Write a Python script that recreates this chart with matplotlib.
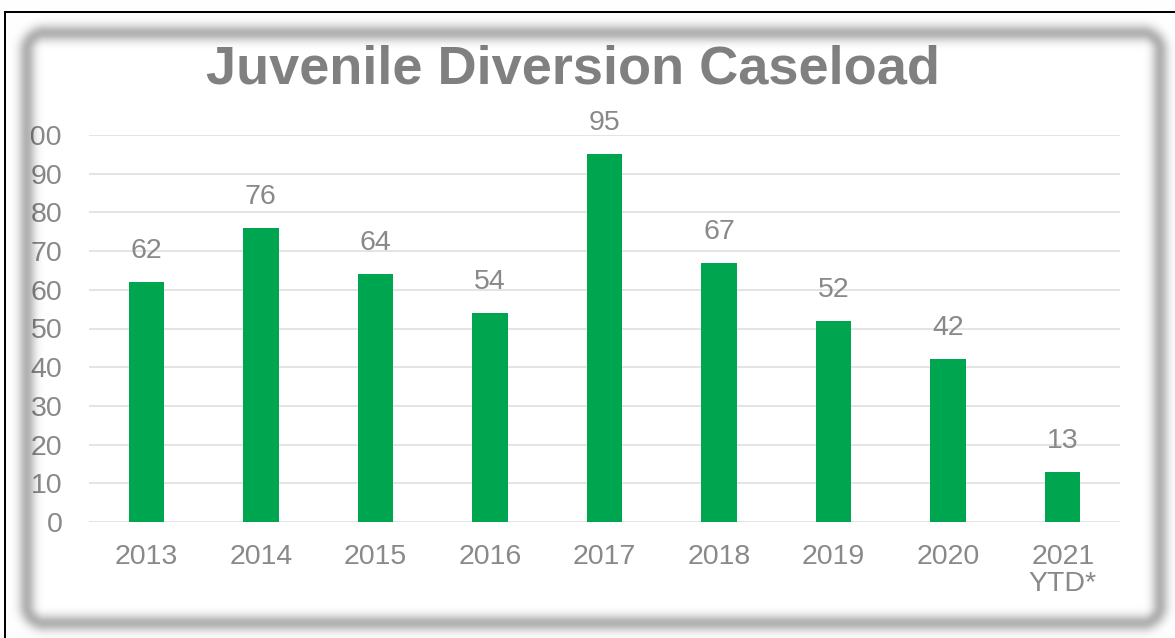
import numpy as np
import matplotlib
matplotlib.use("Agg")
import matplotlib.pyplot as plt

# caseload counts per year
years = ["2013", "2014", "2015", "2016", "2017", "2018", "2019", "2020", "2021\nYTD*"]
caseload = [62, 76, 64, 54, 95, 67, 52, 42, 13]
y_ticks = list(range(0, 101, 10))

W, H = 1175, 638
GREEN = "#00a54f"
TEXT_GRAY = "#898989"

plt.rcParams["font.family"] = ["Liberation Sans", "DejaVu Sans"]

fig = plt.figure(figsize=(W / 100, H / 100), dpi=100)
fig.patch.set_facecolor("white")

ax = fig.add_axes([89 / W, (H - 522) / H, 1031 / W, 387 / H])
x = np.arange(len(years))
bars = ax.bar(x, caseload, width=0.31, color=GREEN, zorder=3)

for rect, val in zip(bars, caseload):
    ax.annotate(str(val), (rect.get_x() + rect.get_width() / 2, val),
                xytext=(0, 13), textcoords="offset points",
                ha="center", va="bottom", fontsize=20.5, color=TEXT_GRAY)

ax.set_xlim(-0.5, len(years) - 0.5)
ax.set_ylim(0, 100)
ax.set_yticks(y_ticks)
ax.set_yticklabels([str(t) for t in y_ticks])
ax.set_xticks(x)
ax.set_xticklabels(years, linespacing=1.05)
ax.tick_params(axis="y", length=0, pad=19, labelsize=20.5, labelcolor=TEXT_GRAY)
ax.tick_params(axis="x", length=0, pad=16, labelsize=20.5, labelcolor=TEXT_GRAY)
ax.grid(axis="y", color="#dcdcdc", linewidth=1.1, zorder=0)
for s in ax.spines.values():
    s.set_visible(False)

fig.text(573 / W, 1 - 83 / H, "Juvenile Diversion Caseload",
         ha="center", va="baseline", fontsize=39, fontweight="bold",
         color="#808080")

# soft rounded frame drawn on top, hiding whatever sits outside it
yy, xx = np.mgrid[0:H, 0:W] + 0.5
cx, cy = (27 + 1160) / 2, (33 + 623) / 2
hx, hy = (1160 - 27) / 2, (623 - 33) / 2
r = 18
qx = np.abs(xx - cx) - (hx - r)
qy = np.abs(yy - cy) - (hy - r)
d = (np.hypot(np.maximum(qx, 0), np.maximum(qy, 0))
     + np.minimum(np.maximum(qx, qy), 0) - r)
shade = 0.30 * np.exp(-d ** 2 / (2 * 6.0 ** 2))
outside = d > -4

img = np.zeros((H, W, 4))
val = 1 - shade
img[..., 0] = np.where(outside, val, 0)
img[..., 1] = img[..., 0]
img[..., 2] = img[..., 0]
img[..., 3] = np.where(outside, 1, shade)

# thin black edge along the top and left
img[11:13, 4:, :3] = 0
img[11:13, 4:, 3] = 1
img[11:, 4:6, :3] = 0
img[11:, 4:6, 3] = 1

over = fig.add_axes([0, 0, 1, 1], zorder=10)
over.imshow(img, extent=(0, W, H, 0), aspect="auto", interpolation="bilinear")
over.set_xlim(0, W)
over.set_ylim(H, 0)
over.axis("off")

fig.savefig("out.png", dpi=100)
